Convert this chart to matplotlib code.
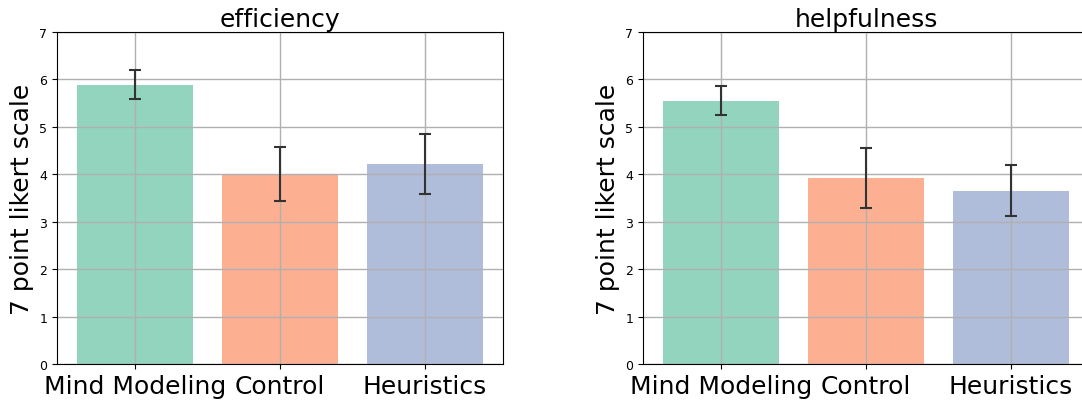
import numpy as np
import matplotlib
matplotlib.use("Agg")
import matplotlib.pyplot as plt

# data
conditions = ["Mind Modeling", "Control", "Heuristics"]
efficiency_mean = [5.89, 4.00, 4.21]
efficiency_err = [0.31, 0.57, 0.63]
helpfulness_mean = [5.55, 3.92, 3.65]
helpfulness_err = [0.31, 0.635, 0.54]

colors = ["#66c2a5", "#fc8d62", "#8da0cb"]

fig = plt.figure(figsize=(10.82, 4.02), dpi=100)

panels = [
    ("efficiency", efficiency_mean, efficiency_err, 57),
    ("helpfulness", helpfulness_mean, helpfulness_err, 643),
]

for title, means, errs, left_px in panels:
    ax = fig.add_axes([left_px / 1082, 37 / 402, 446 / 1082, 332 / 402])
    x = np.arange(len(conditions))
    ax.bar(x, means, width=0.8, color=colors, alpha=0.7)
    ax.errorbar(x, means, yerr=errs, fmt="none", ecolor="#333333",
                elinewidth=1.5, capsize=4, capthick=1.5, zorder=4)
    ax.set_ylim(0, 7)
    ax.set_xticks(x)
    ax.set_xticklabels(conditions, fontsize=18)
    ax.tick_params(axis="y", labelsize=9)
    ax.set_ylabel("7 point likert scale", fontsize=18)
    ax.set_title(title, fontsize=18, pad=4)
    ax.grid(True, color="#b0b0b0", linewidth=1)
    ax.set_axisbelow(False)
    for sp in ax.spines.values():
        sp.set_zorder(5)

plt.savefig("out.png", dpi=100)
